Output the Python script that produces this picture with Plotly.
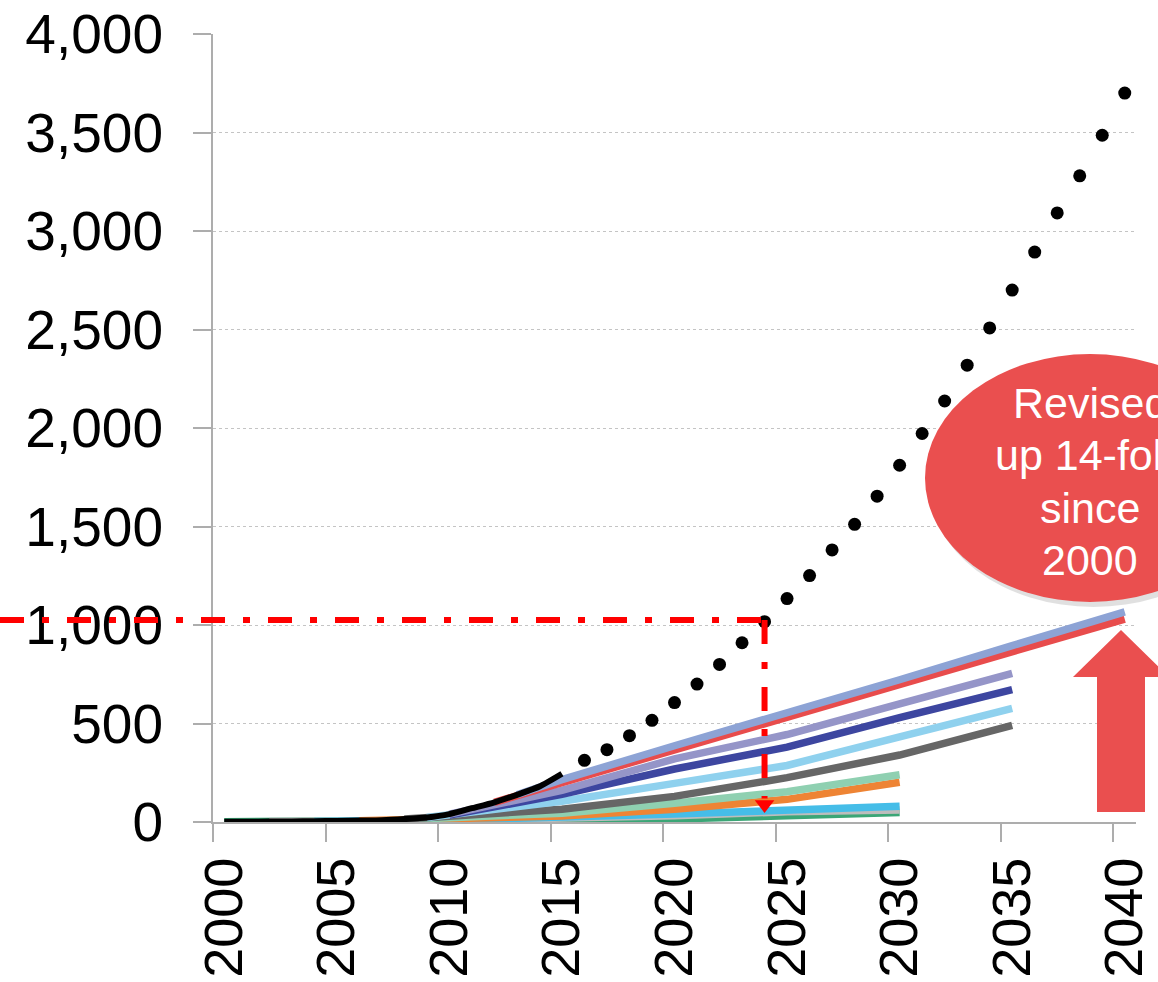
import plotly.graph_objects as go

# ---------------- data ----------------
hist_years = list(range(2000, 2016))
hist_vals = [1, 1, 2, 3, 4, 5, 7, 9, 15, 23, 40, 70, 100, 138, 180, 245]

proj_years = list(range(2016, 2041))
proj_vals = [313, 367, 438, 516, 606, 700, 800, 910, 1017, 1134, 1251, 1381, 1511,
             1654, 1811, 1972, 2137, 2319, 2508, 2700, 2893, 3092, 3280, 3486, 3700]

steel_years = [2013, 2015, 2020, 2025, 2030, 2035, 2040]
steel_vals = [138, 215, 387, 550, 722, 895, 1067]
red_years = [2012, 2015, 2020, 2025, 2030, 2035, 2040]
red_vals = [100, 200, 369, 530, 700, 865, 1030]
lav_years = [2010, 2015, 2020, 2025, 2030, 2035]
lav_vals = [40, 160, 320, 444, 600, 755]
dblue_years = [2010, 2015, 2020, 2025, 2030, 2035]
dblue_vals = [35, 140, 269, 380, 530, 672]
sky_years = [2009, 2015, 2020, 2025, 2030, 2035]
sky_vals = [23, 105, 196, 287, 432, 577]
gray_years = [2008, 2015, 2020, 2025, 2030, 2035]
gray_vals = [15, 65, 130, 225, 340, 491]
mint_years = [2008, 2015, 2020, 2025, 2030]
mint_vals = [12, 45, 95, 154, 240]
orange_years = [2006, 2015, 2020, 2025, 2030]
orange_vals = [6, 30, 65, 115, 202]
bblue_years = [2004, 2010, 2020, 2025, 2030]
bblue_vals = [3, 10, 40, 64, 80]
lgray_years = [2002, 2010, 2020, 2025, 2030]
lgray_vals = [2, 8, 32, 52, 61]
green_years = [2000, 2010, 2020, 2025, 2030]
green_vals = [1, 4, 15, 32, 48]

tick_years = list(range(2000, 2041, 5))
tick_labels = [str(y) for y in tick_years]
y_ticks = list(range(0, 4001, 500))

marker_year = 2024
marker_value = 1025
arrow_tip_value = 89

note_lines = ["Revised", "up 14-fold", "since", "2000"]

# ---------------- layout geometry ----------------
W, H = 1158, 982
L, R, T, B = 213, 22, 34, 160
pw, ph = W - L - R, H - T - B
x_range = [1999.5, 2040.5]


def px(x):
    return (x - L) / pw


def py(y):
    return (H - B - y) / ph


fig = go.Figure()

series = [
    (green_years, green_vals, "#3BA676"),
    (lgray_years, lgray_vals, "#BDBDBD"),
    (bblue_years, bblue_vals, "#45BDE8"),
    (orange_years, orange_vals, "#EE8434"),
    (mint_years, mint_vals, "#8FD0B1"),
    (gray_years, gray_vals, "#666666"),
    (sky_years, sky_vals, "#8FD1EE"),
    (dblue_years, dblue_vals, "#3D46A0"),
    (lav_years, lav_vals, "#9595C8"),
    (red_years, red_vals, "#E84C4C"),
    (steel_years, steel_vals, "#8DA3D5"),
]
for xs, ys, col in series:
    fig.add_trace(go.Scatter(x=xs, y=ys, mode="lines",
                             line=dict(color=col, width=7.5), hoverinfo="skip"))

fig.add_trace(go.Scatter(x=hist_years, y=hist_vals, mode="lines",
                         line=dict(color="black", width=6, shape="spline", smoothing=0.6)))
fig.add_trace(go.Scatter(x=proj_years, y=proj_vals, mode="markers",
                         marker=dict(color="black", size=13)))

# vertical dash-dot drop line with arrowhead
fig.add_trace(go.Scatter(x=[marker_year, marker_year], y=[marker_value, arrow_tip_value + 30],
                         mode="lines",
                         line=dict(color="#FF0000", width=6, dash="24px,18px,7px,18px")))
fig.add_trace(go.Scatter(x=[marker_year], y=[arrow_tip_value], mode="markers",
                         marker=dict(symbol="triangle-down", size=17, color="#FF0000")))

shapes = []
# horizontal dash-dot line from page left edge to the marker year
shapes.append(dict(type="line", xref="paper", yref="y",
                   x0=-L / pw, x1=(marker_year - x_range[0]) / (x_range[1] - x_range[0]),
                   y0=marker_value, y1=marker_value,
                   line=dict(color="#FF0000", width=6, dash="24px,18px,7px,18px"),
                   layer="above"))
# ellipse shadow + ellipse
shapes.append(dict(type="circle", xref="paper", yref="paper",
                   x0=px(928), x1=px(1259), y0=py(607), y1=py(357),
                   fillcolor="rgba(0,0,0,0.12)", line=dict(width=0), layer="above"))
shapes.append(dict(type="circle", xref="paper", yref="paper",
                   x0=px(925), x1=px(1255), y0=py(602), y1=py(354),
                   fillcolor="#EA4F4F", line=dict(width=0), layer="above"))
# big up arrow
pts = [(1121, 630), (1169, 677), (1145, 677), (1145, 812), (1097, 812), (1097, 677), (1073, 677)]
path = "M " + " L ".join(f"{px(a):.5f},{py(b):.5f}" for a, b in pts) + " Z"
shapes.append(dict(type="path", xref="paper", yref="paper", path=path,
                   fillcolor="#EA4F4F", line=dict(width=0), layer="above"))

annotations = []
for i, line in enumerate(note_lines):
    annotations.append(dict(xref="paper", yref="paper", x=px(1090), y=py(403 + 52.3 * i),
                            text=line, showarrow=False, xanchor="center", yanchor="middle",
                            font=dict(size=43, color="white",
                                      family="Liberation Sans, Arial, sans-serif")))

fig.update_layout(
    width=W, height=H,
    margin=dict(l=L, r=R, t=T, b=B, autoexpand=False),
    paper_bgcolor="white", plot_bgcolor="white",
    showlegend=False,
    font=dict(family="Liberation Sans, Arial, sans-serif", color="black"),
    shapes=shapes,
    annotations=annotations,
)

fig.update_xaxes(
    range=x_range, tickmode="array", tickvals=tick_years, ticktext=tick_labels,
    tickangle=-90, tickfont=dict(size=54), ticks="outside", ticklen=12,
    tickcolor="rgba(0,0,0,0)", tickwidth=2, automargin=False,
    showline=True, linecolor="#ADADAD", linewidth=2, showgrid=False, zeroline=False,
    minor=dict(tickmode="array", tickvals=[y - 0.5 for y in tick_years], ticks="outside",
               ticklen=18, tickwidth=2, tickcolor="#ADADAD", showgrid=False),
)
fig.update_yaxes(
    range=[0, 4000], tickmode="array", tickvals=y_ticks, tickformat=",",
    tickfont=dict(size=55), ticks="outside", ticklen=18, tickwidth=2, tickcolor="#ADADAD",
    showline=True, linecolor="#ADADAD", linewidth=2, automargin=False,
    showgrid=True, gridcolor="#C4C4C4", gridwidth=1, griddash="dot", zeroline=False,
    ticklabelstandoff=19,
)

fig.write_html("out.html")
